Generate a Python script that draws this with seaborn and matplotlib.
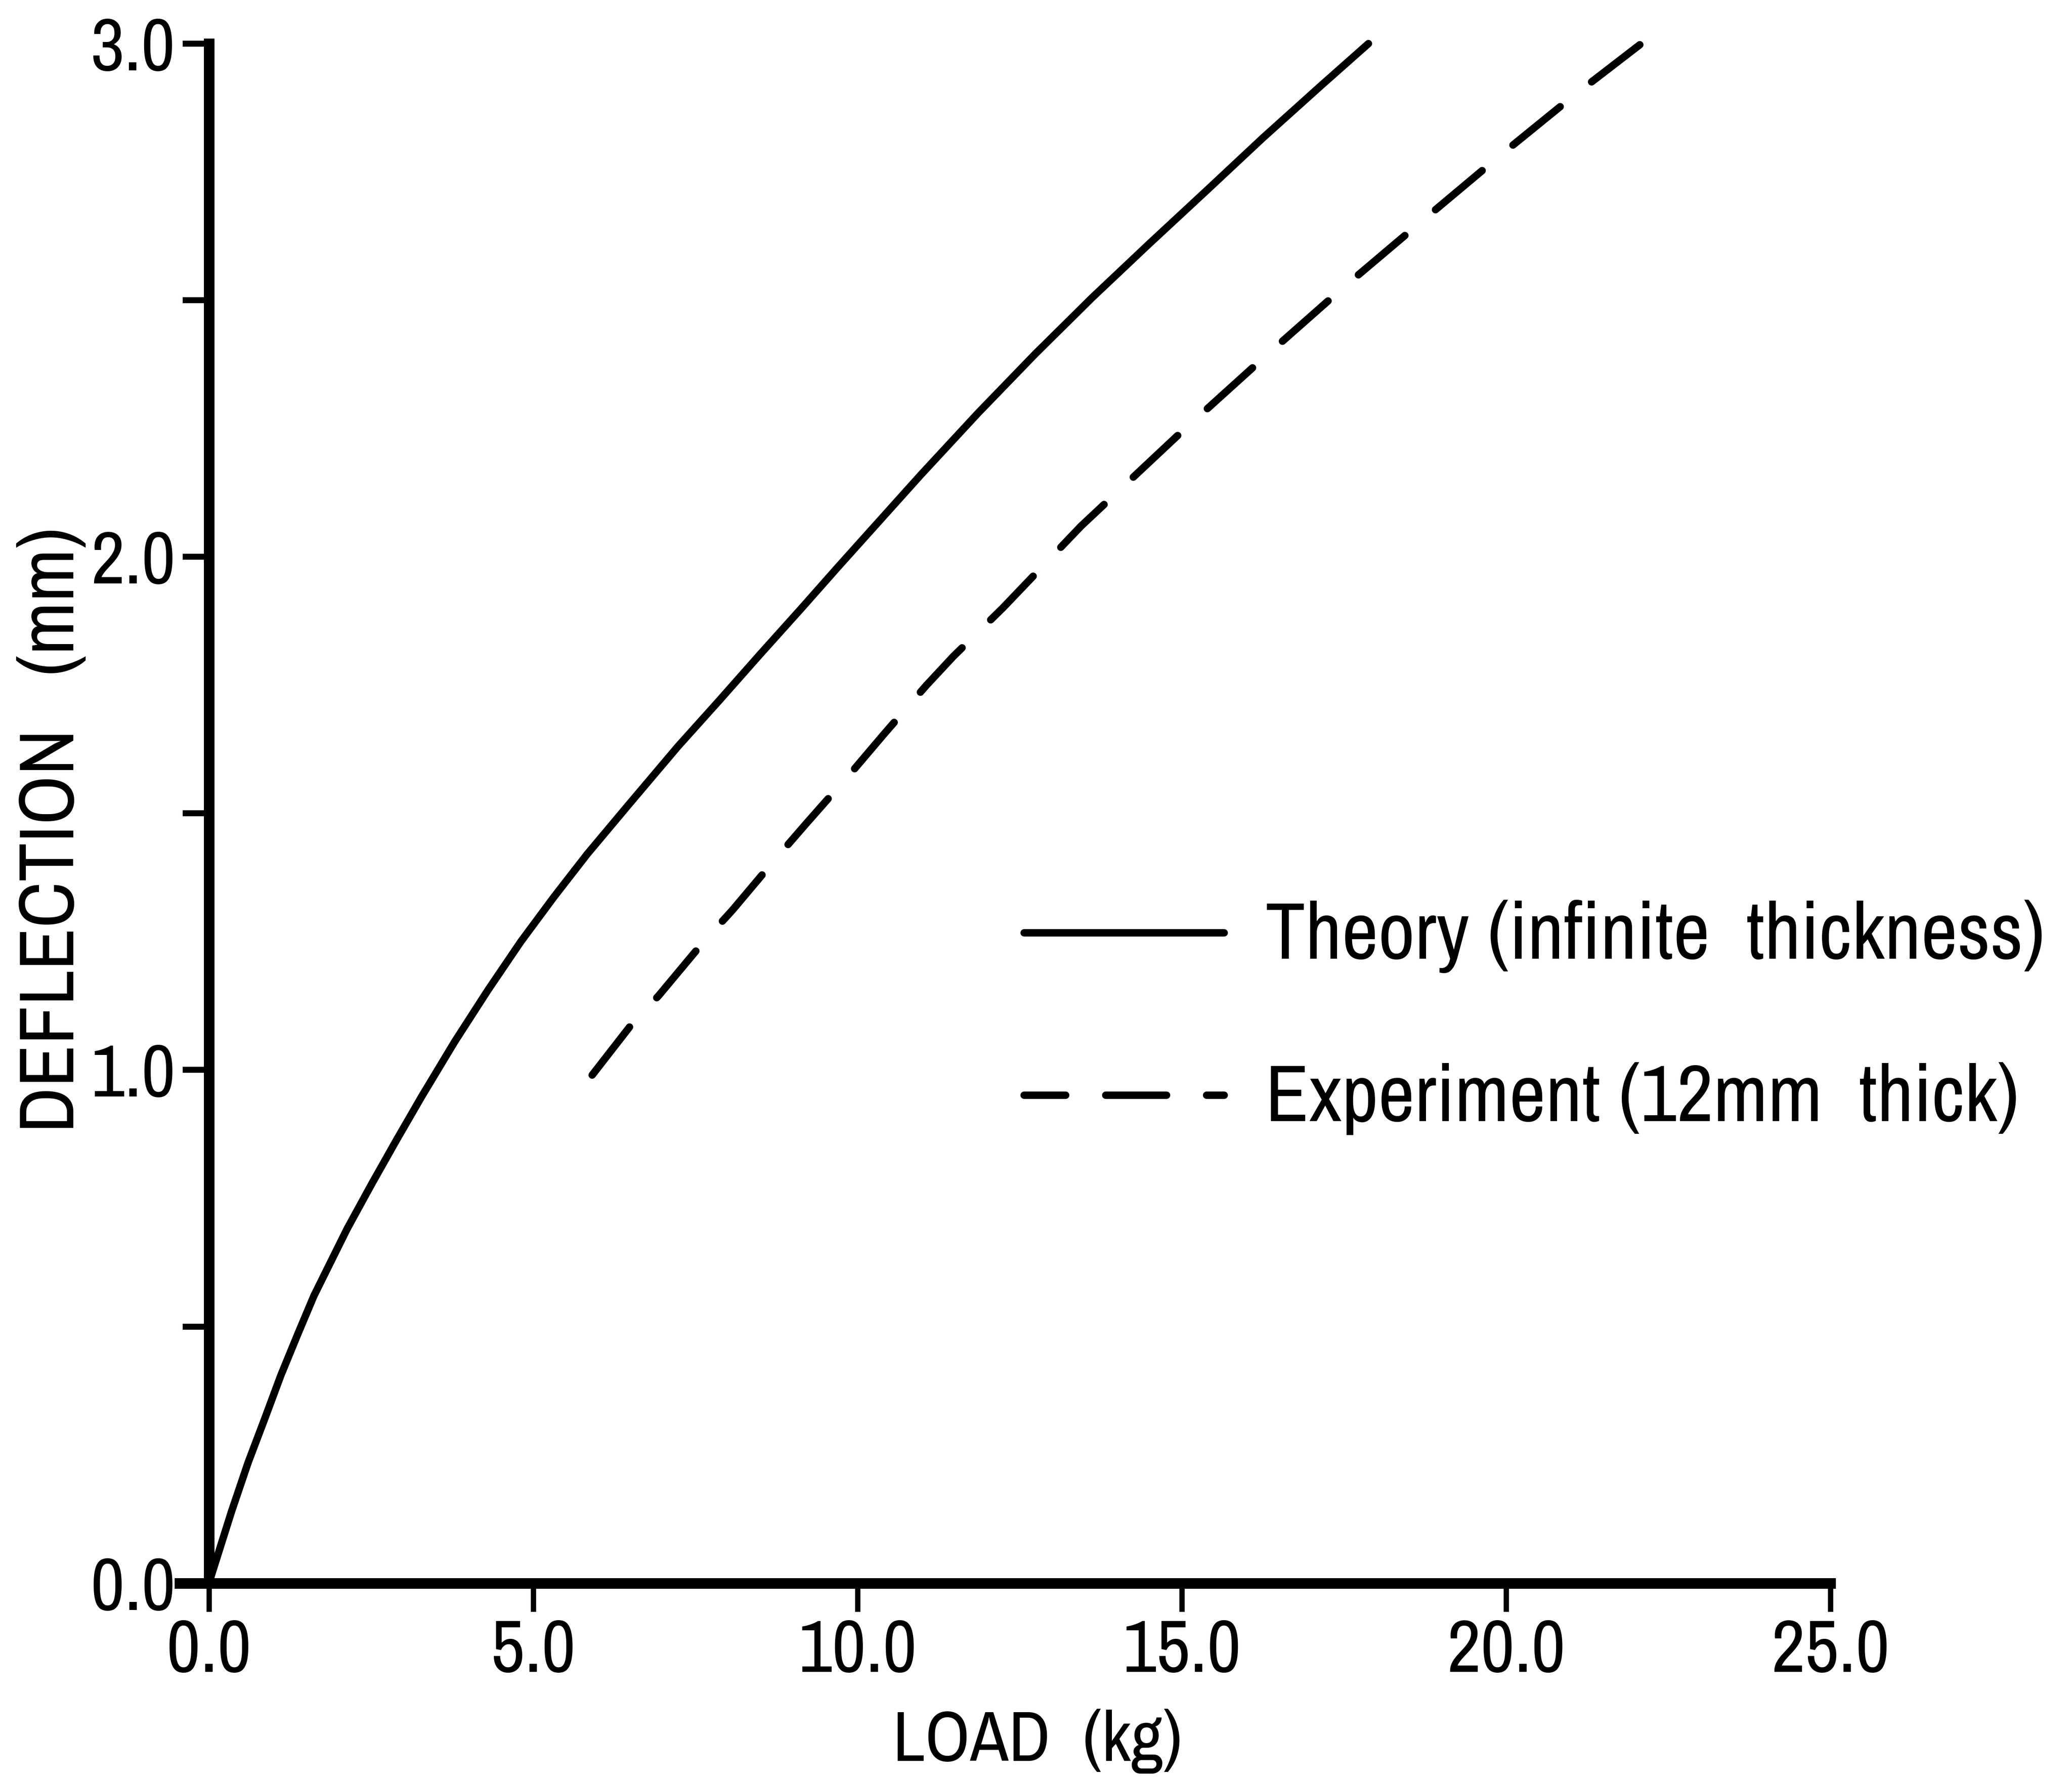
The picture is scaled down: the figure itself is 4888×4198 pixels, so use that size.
import seaborn as sns
import matplotlib.pyplot as plt
from matplotlib import font_manager

# values (load in kg, deflection in mm)
theory_load = [0.0, 0.35, 0.605, 0.86, 1.11, 1.37, 1.62, 2.13, 2.52, 2.90, 3.28, 3.79,
               4.30, 4.81, 5.32, 5.83, 6.46, 7.23, 7.87, 8.50, 9.14, 9.70, 10.98, 11.86,
               12.74, 13.62, 14.50, 15.37, 16.25, 17.13, 17.88]
theory_defl = [0.0, 0.14, 0.235, 0.32, 0.405, 0.485, 0.56, 0.69, 0.78, 0.865, 0.948, 1.055,
               1.155, 1.25, 1.337, 1.42, 1.515, 1.63, 1.72, 1.81, 1.90, 1.98, 2.16, 2.28,
               2.395, 2.505, 2.61, 2.712, 2.816, 2.916, 3.0]

exp_load = [5.91, 6.55, 6.93, 7.63, 8.07, 8.75, 9.21, 9.95, 10.40, 11.06, 11.48, 12.24,
            13.45, 14.97, 16.24, 17.45, 18.76, 19.94, 21.06, 22.19]
exp_defl = [0.99, 1.094, 1.144, 1.25, 1.311, 1.413, 1.48, 1.586, 1.653, 1.749, 1.806, 1.90,
            2.06, 2.24, 2.385, 2.52, 2.66, 2.785, 2.90, 3.01]

x_ticks = [0, 5, 10, 15, 20, 25]
x_tick_labels = ['0.0', '5.0', '10.0', '15.0', '20.0', '25.0']
y_ticks = [0, 0.5, 1.0, 1.5, 2.0, 2.5, 3.0]
y_tick_labels = ['0.0', '', '1.0', '', '2.0', '', '3.0']

sns.set_style('white')
names = {f.name for f in font_manager.fontManager.ttflist}
font = 'Archivo Narrow' if 'Archivo Narrow' in names else 'DejaVu Sans'
plt.rcParams['font.family'] = [font, 'DejaVu Sans']
for k in ['text.color', 'axes.labelcolor', 'xtick.color', 'ytick.color']:
    plt.rcParams[k] = 'black'

W, H = 1568, 1347  # reference grid used for placing things
fig = plt.figure(figsize=(4888 / 300, 4198 / 300), dpi=300)
ax = fig.add_axes([136 / W, 1 - 1198 / H, (1385 - 136) / W, (1198 - 33) / H])

sns.lineplot(x=theory_load, y=theory_defl, ax=ax, color='black', linewidth=4.2,
             sort=False, clip_on=False, solid_capstyle='round',
             solid_joinstyle='round', label='Theory (infinite  thickness)')
sns.lineplot(x=exp_load, y=exp_defl, ax=ax, color='black', linewidth=4.2,
             sort=False, clip_on=False, linestyle=(0, (8.2, 5.4)),
             dash_capstyle='round', label='Experiment (12mm  thick)')

ax.set_xlim(-0.45, 25)
ax.set_ylim(0, 3)
ax.spines['top'].set_visible(False)
ax.spines['right'].set_visible(False)
ax.spines['left'].set_position(('data', 0))
for s in ['left', 'bottom']:
    ax.spines[s].set_linewidth(6)
    ax.spines[s].set_color('black')

ax.set_xticks(x_ticks)
ax.set_xticklabels(x_tick_labels)
ax.set_yticks(y_ticks)
ax.set_yticklabels(y_tick_labels)
ax.tick_params(axis='x', direction='out', length=16, width=3, pad=4,
               labelsize=42, bottom=True)
ax.tick_params(axis='y', direction='out', length=15, width=3.4, pad=4,
               labelsize=42, left=True)

ax.set_xlabel('LOAD  (kg)', fontsize=40)
ax.set_ylabel('DEFLECTION   (mm)', fontsize=44)
ax.xaxis.set_label_coords(785 / W, 1 - 1293 / H, transform=fig.transFigure)
ax.yaxis.set_label_coords(66 / W, 1 - 628 / H, transform=fig.transFigure)

leg = ax.legend(loc='upper left', bbox_to_anchor=(775 / W, 1 - 681 / H),
                bbox_transform=fig.transFigure, frameon=False, fontsize=42,
                handlelength=2.7, handletextpad=0.55, labelspacing=1.2,
                borderpad=0, borderaxespad=0)
leg.get_lines()[1].set_linestyle((2.6, (8.2, 5.4)))

# fit the legend text to the width it has in the reference
fig.canvas.draw()
w = leg.get_texts()[0].get_window_extent().width
size = max(32, min(46, 42 * (590 * 4888 / W) / w))
for t in leg.get_texts():
    t.set_fontsize(size)

fig.savefig('out.png', dpi=300, facecolor='white')
